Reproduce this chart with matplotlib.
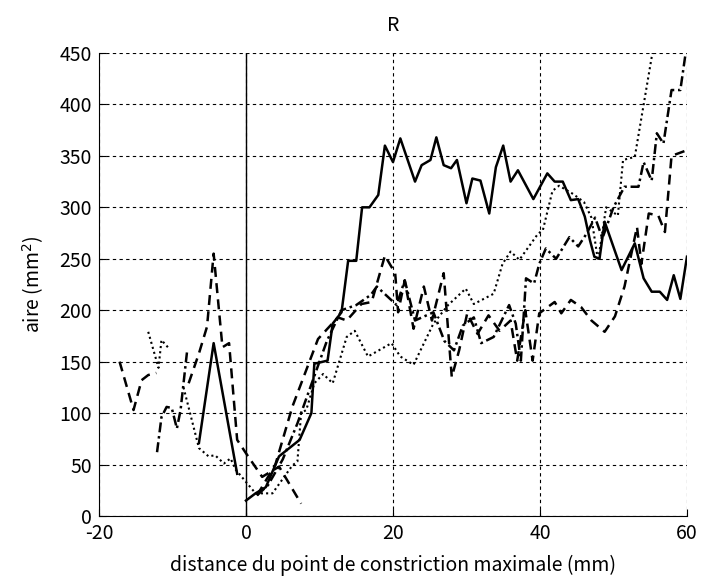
import matplotlib.pyplot as plt
import numpy as np

plt.rcParams['font.family'] = ['Noto Sans CJK JP', 'DejaVu Sans']
plt.rcParams['axes.unicode_minus'] = False

nan = np.nan

# solid curve
x_solid = [-6.4, -4.4, -1.2, nan, 0, 1.3, 2.7, 4.5, 7.3, 8.9, 9.3, 11.1, 11.8, 13.0, 13.9, 15.0,
           15.8, 16.8, 18.0, 18.9, 20.0, 21.0, 23.0, 23.9, 25.1, 25.9, 26.9, 27.9, 28.7, 30.0,
           30.8, 31.9, 33.1, 34.0, 35.0, 36.0, 37.0, 39.1, 41.0, 42.0, 43.1, 44.2, 45.2, 46.1,
           46.8, 47.4, 48.1, 48.8, 51.1, 52.9, 54.1, 55.2, 56.3, 57.3, 58.2, 59.1, 60.0]
y_solid = [71, 168, 41, nan, 15, 22, 28, 58, 74, 100, 148, 151, 187, 198, 248, 248,
           300, 300, 312, 360, 344, 367, 325, 341, 346, 368, 341, 338, 346, 304,
           328, 326, 294, 339, 360, 325, 336, 308, 333, 325, 325, 307, 308, 291,
           268, 252, 250, 286, 239, 265, 231, 218, 218, 210, 234, 211, 252]

# dashed curve with the peak left of 0
x_dash1 = [-17.2, -15.3, -14.2, -13.3, -12.2, nan, -7.8, -6.4, -5.3, -4.4, -3.2, -2.3,
           -1.2, 0, 2.2, 4.5, 7.5]
y_dash1 = [150, 103, 132, 137, 139, nan, 129, 158, 184, 255, 164, 168,
           74, 61, 38, 48, 12]

# dashed curve right of 0
x_dash2 = [1.5, 4.0, 6.3, 9.8, 12.5, 13.7, 15.7, 17.1, 18.9, 20.3, 20.7, 21.6, 22.8, 24.2,
           25.3, 26.9, 28.0, 29.0, 30.1, 31.5, 33.0, 34.5, 36.0, 36.9, 38.0, 39.0, 39.9,
           42.0, 42.9, 44.2, 45.6, 47.0, 48.8, 50.2, 51.5, 53.2, 53.8, 54.8, 56.1, 57.0,
           57.9, 59.8, 60.5]
y_dash2 = [20, 50, 106, 172, 193, 190, 206, 208, 253, 236, 198, 229, 182, 223,
           190, 236, 135, 161, 197, 177, 195, 180, 190, 151, 200, 151, 197,
           208, 197, 210, 203, 190, 179, 194, 223, 281, 245, 294, 292, 276,
           350, 355, 360]

# dash-dot curve
x_dd = [-12.1, -11.5, -10.8, -10.1, -9.4, -8.9, -8.0, nan,
        1.5, 3.0, 5.0, 7.0, 9.0, 10.0, 11.0, 12.0, 13.0, 15.0, 17.0, 17.8, 19.0, 20.5,
        21.6, 23.0, 25.5, 27.0, 28.3, 29.5, 31.0, 32.0, 33.7, 35.8, 36.7, 37.4, 38.1,
        39.2, 39.9, 40.8, 42.2, 44.0, 45.2, 46.3, 47.5, 48.5, 50.0, 51.5, 53.4, 54.1,
        55.2, 55.9, 56.8, 57.9, 59.1, 59.8, 60.5]
y_dd = [62, 96, 106, 105, 85, 103, 161, nan,
        20, 30, 55, 90, 130, 150, 170, 185, 200, 205, 215, 223, 215, 205,
        229, 190, 198, 170, 161, 185, 193, 168, 174, 205, 187, 151, 231,
        226, 245, 260, 250, 271, 262, 274, 290, 270, 300, 320, 320, 344,
        326, 372, 362, 414, 414, 449, 470]

# dotted curve
x_dot = [-13.3, -11.9, -11.5, -10.5, nan, -8.5, -6.4, -5.1, -4.2, -3.0, -2.1, -1.4,
         1.3, 3.6, 6.3, 7.0, 7.5, 8.2, 9.3, 10.5, 11.8, 13.7, 14.8, 16.6, 19.8, 21.0,
         22.8, 25.5, 27.5, 29.9, 31.0, 33.7, 34.9, 36.0, 37.2, 39.7, 40.4, 41.7, 42.6,
         44.5, 46.0, 47.0, 47.9, 49.0, 50.6, 51.3, 52.9, 55.2, 56.0]
y_dot = [179, 144, 171, 163, nan, 125, 66, 58, 59, 51, 56, 45,
         22, 22, 49, 53, 100, 103, 129, 138, 129, 174, 180, 155, 168, 155,
         147, 187, 205, 221, 206, 216, 245, 257, 249, 274, 278, 316, 321,
         313, 305, 290, 248, 300, 292, 346, 349, 446, 470]

fig = plt.figure(figsize=(7.03, 5.78), dpi=100)
ax = fig.add_axes([0.1408, 0.1073, 0.8364, 0.801])

ax.plot(x_solid, y_solid, color='k', linestyle='-', linewidth=1.8)
ax.plot(x_dash1, y_dash1, color='k', linestyle=(0, (4, 2.5)), linewidth=1.8)
ax.plot(x_dash2, y_dash2, color='k', linestyle=(0, (4, 2.5)), linewidth=1.8)
ax.plot(x_dd, y_dd, color='k', linestyle=(0, (4, 1.5, 1, 1.5)), linewidth=1.8)
ax.plot(x_dot, y_dot, color='k', linestyle=(0, (1, 1.5)), linewidth=1.5)
ax.axvline(0, color='k', linewidth=1.0)

ax.set_xlim(-20, 60)
ax.set_ylim(0, 450)
ax.set_xticks(np.arange(-20, 61, 20))
ax.set_yticks(np.arange(0, 451, 50))
ax.grid(True, color='k', linestyle=(0, (3, 3)), linewidth=0.8)
ax.spines['top'].set_visible(False)
ax.spines['right'].set_visible(False)
ax.tick_params(direction='in', length=5, labelsize=14, pad=5)

ax.set_title('R', fontsize=14, pad=16)
ax.set_xlabel('distance du point de constriction maximale (mm)', fontsize=14, labelpad=8)
ax.set_ylabel('aire (mm$^2$)', fontsize=14, labelpad=10)

plt.savefig('out.png')
